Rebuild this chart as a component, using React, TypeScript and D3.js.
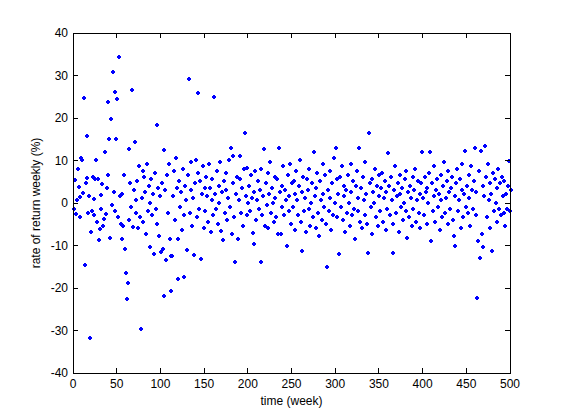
import React from "react";
import * as d3 from "d3";

const weeks1to100 = [
  -1.5, 5.2, -2.8, 0.5, 7.8, 3.7, -3.5, 1.2, 10.5, 10, 2.3, 24.5, -14.7, 4.5, 15.7, 5.8, -2.5, 1.5, -31.8, -6.9,
  -2.0, 6.0, 0.8, -3.0, 5.5, 10.0, -4.5, 5.5, -8.8, -6.2, 1.8, -1.5, 4.4, -5.5, -3.8, 11.9, -2.8, 3.5, 6.5, 23.7,
  15.0, -8.3, 19.7, -0.5, 30.8, 2.5, -2.0, 25.9, 15.0, 24.4,
  -3.5, 34.3, 1.5, -5.0, -8.5, 2.0, -5.5, 6.5, -10.9, -16.5, -22.7, -18.9, 12.5, -4.0, 4.5, -1.0, 26.5, -5.8, 3.0, 14.3,
  0.5, -2.5, 5.0, -6.0, 8.5, -3.5, -29.7, 1.0, 7.5, -4.5, 6.0, 2.5, -7.5, 9.0, -2.0, 4.0, -10.5, 0.0, 5.5, -3.0,
  2.0, -12.0, 7.0, -1.5, 18.3, -5.0, 3.5, -8.0, 1.5, -11.6,
];
const weeks101to200 = [
  4.5, -11.0, -22.0, 12.4, 3.0, -13.6, 6.5, -2.5, 9.0, -8.5, -20.8, -12.6, -12.5, 1.5, 7.5, -4.0, 10.5, 3.5, -18.1, -8.5,
  5.0, -1.0, 2.5, -6.5, 8.0, -3.0, -17.5, 4.0, 0.5, -11.1, 6.5, 29.1, -2.5, 3.0, 9.5, -5.5, 1.0, -12.3, 4.5, 10.0,
  -3.5, 7.0, 25.8, -1.5, 5.0, -13.2, 2.0, 8.5, -6.0, 3.5,
  -2.0, 6.0, 1.5, -4.5, 9.0, 3.5, -7.0, 0.5, 5.5, -3.0, 24.9, 2.0, -1.5, 7.5, -5.0, 4.0, 0.0, 9.5, -6.7, 2.5,
  -8.8, 5.0, -2.5, 3.0, 7.0, -4.0, 1.0, 10.0, -1.0, 12.9, -7.4, 4.5, 10.9, -3.5, -14.0, 2.0, 6.0, -8.5, 0.5, 5.5,
  10.9, -2.5, 3.5, -5.5, 8.0, 16.4, 1.5, -3.0, 8.2, 0.0,
];
const weeks201to300 = [
  4.0, -2.0, 6.5, 1.0, -7.1, -9.7, 2.5, 7.5, -4.0, 0.5, 5.0, -1.5, 3.0, -14.0, 8.0, -3.0, 1.5, 12.6, -5.5, 4.5,
  -0.5, 7.0, -6.0, 2.0, 9.5, -2.5, 3.5, 0.0, -4.5, 6.0, 1.0, -3.5, 5.5, -7.4, 12.9, 2.5, -7.5, 4.0, -1.0, 8.5,
  -3.0, 3.0, 0.5, -10.2, 6.5, -2.0, 1.5, 9.0, -5.0, 4.5,
  -1.0, 5.0, 2.0, -6.5, 7.5, 0.5, -3.0, 4.0, 10.0, -4.5, -11.4, 2.5, 6.0, -2.0, 1.0, -7.0, 5.5, 3.0, -1.5, 8.0,
  -5.5, 0.0, 4.5, -3.5, 11.9, 1.5, -6.0, 3.5, 7.0, -2.5, -8.0, 5.0, 0.5, -4.0, 9.0, 2.0, -1.0, 6.5, -5.0, -15.1,
  3.0, -2.0, 7.5, 1.0, -6.5, 4.5, -3.0, 10.5, 0.0, 12.9,
];
const weeks301to400 = [
  -3.5, 5.5, 2.0, -12.1, 6.0, -1.0, 8.5, -4.0, 1.5, 4.0, -7.0, 3.0, -2.5, 6.5, 0.0, -5.5, 9.0, 2.5, -3.0, 5.0,
  -1.5, -8.5, 4.0, 7.5, -2.0, 1.0, 12.9, -4.5, 3.5, -6.0, 6.0, 0.5, -3.0, 9.5, 2.0, -5.0, -11.8, 16.4, 4.5, -1.0,
  5.5, -7.5, 2.5, 0.0, 8.0, -3.5, 4.0, -5.5, 1.5, 6.5,
  -2.0, 3.5, 7.0, -4.5, 1.0, 5.0, -6.5, 2.5, -1.5, 11.7, 4.0, -3.0, 6.0, 0.5, -5.0, -11.8, 3.0, 8.5, -2.5, 1.5,
  4.5, -7.0, 2.0, 6.5, -1.0, 3.5, -4.0, 0.0, 5.5, -2.0, 7.5, -8.3, 2.5, -3.5, 4.0, 1.0, -5.5, 6.0, -1.5, 3.0,
  8.0, -4.5, 0.5, 5.0, -2.5, 2.0, -6.0, 4.5, 11.9, 1.0,
];
const weeks401to500 = [
  -3.0, 6.0, 2.5, -5.0, 3.5, 0.0, 7.0, 11.9, -9.0, 4.5, -2.0, 1.5, 8.5, -4.5, 3.0, 5.5, -1.0, 2.0, -6.5, 6.5,
  0.5, -3.5, 4.0, 9.5, -2.5, 1.0, 5.0, -5.0, 7.5, 2.5, -1.5, 3.5, 6.0, -4.0, -7.9, 1.5, -10.2, 4.5, 8.0, -2.0,
  0.5, 5.5, -6.0, 3.0, 9.0, -3.5, 2.0, 12.2, -1.0, 4.0,
  -2.5, 6.5, 1.0, -5.5, 8.5, 3.0, -1.5, 5.0, 12.9, -3.0, 2.5, -22.4, -9.0, 7.5, -13.0, 12.2, -7.4, 4.0, -10.5, 1.5,
  13.3, 6.0, -3.5, 9.0, 0.5, -6.0, 4.5, 2.0, -11.4, 7.0, -2.0, 5.5, 0.0, -4.5, 3.5, 8.0, -1.5, 4.5, -3.0, 6.0,
  1.5, -2.5, 5.0, -5.5, 2.0, -1.5, 4.0, 9.8, -2.0, 3.0,
];

const xTicks = [0, 50, 100, 150, 200, 250, 300, 350, 400, 450, 500];
const yTicks = [-40, -30, -20, -10, 0, 10, 20, 30, 40];
const xLabel = "time (week)";
const yLabel = "rate of return weekly (%)";

const returns = [...weeks1to100, ...weeks101to200, ...weeks201to300, ...weeks301to400, ...weeks401to500];

export default function App() {
  const W = 561, H = 420;
  const left = 73, right = 510, top = 33, bottom = 373;
  const x = d3.scaleLinear().domain([0, 500]).range([left, right]);
  const y = d3.scaleLinear().domain([-40, 40]).range([bottom, top]);
  const tl = 5;
  const font = "Liberation Sans, Arial, sans-serif";
  // crisp 4x4 plus-like marker, pixel-aligned
  const marker = "M0,-2h2v1h1v2h-1v1h-2v-1h-1v-2h1z";
  return (
    <svg width={W} height={H} style={{ position: "absolute", left: 0, top: 0, background: "#fff" }}>
      <rect x={0} y={0} width={W} height={H} fill="#fff" />
      <rect x={left} y={top} width={right - left} height={bottom - top} fill="#fff" />
      {returns.map((v, i) => (
        <path key={i} d={marker} transform={`translate(${Math.floor(x(i + 1))},${Math.floor(y(v))})`} fill="#0000ff" shapeRendering="crispEdges" />
      ))}
      <rect x={left + 0.5} y={top + 0.5} width={right - left} height={bottom - top} fill="none" stroke="#000" strokeWidth={1} shapeRendering="crispEdges" />
      {xTicks.map((t) => (
        <g key={"x" + t}>
          <line x1={x(t)} x2={x(t)} y1={bottom} y2={bottom - tl} stroke="#000" shapeRendering="crispEdges" />
          <line x1={x(t)} x2={x(t)} y1={top} y2={top + tl} stroke="#000" shapeRendering="crispEdges" />
          <text x={x(t)} y={bottom + 15} textAnchor="middle" fontSize={12} fontFamily={font}>{t}</text>
        </g>
      ))}
      {yTicks.map((t) => (
        <g key={"y" + t}>
          <line x1={left} x2={left + tl} y1={y(t)} y2={y(t)} stroke="#000" shapeRendering="crispEdges" />
          <line x1={right} x2={right - tl} y1={y(t)} y2={y(t)} stroke="#000" shapeRendering="crispEdges" />
          <text x={left - 5} y={y(t) + 4} textAnchor="end" fontSize={12} fontFamily={font}>{t}</text>
        </g>
      ))}
      <text x={(left + right) / 2} y={bottom + 32} textAnchor="middle" fontSize={12} fontFamily={font}>{xLabel}</text>
      <text transform={`translate(40,${(top + bottom) / 2}) rotate(-90)`} textAnchor="middle" fontSize={12} fontFamily={font}>{yLabel}</text>
    </svg>
  );
}
